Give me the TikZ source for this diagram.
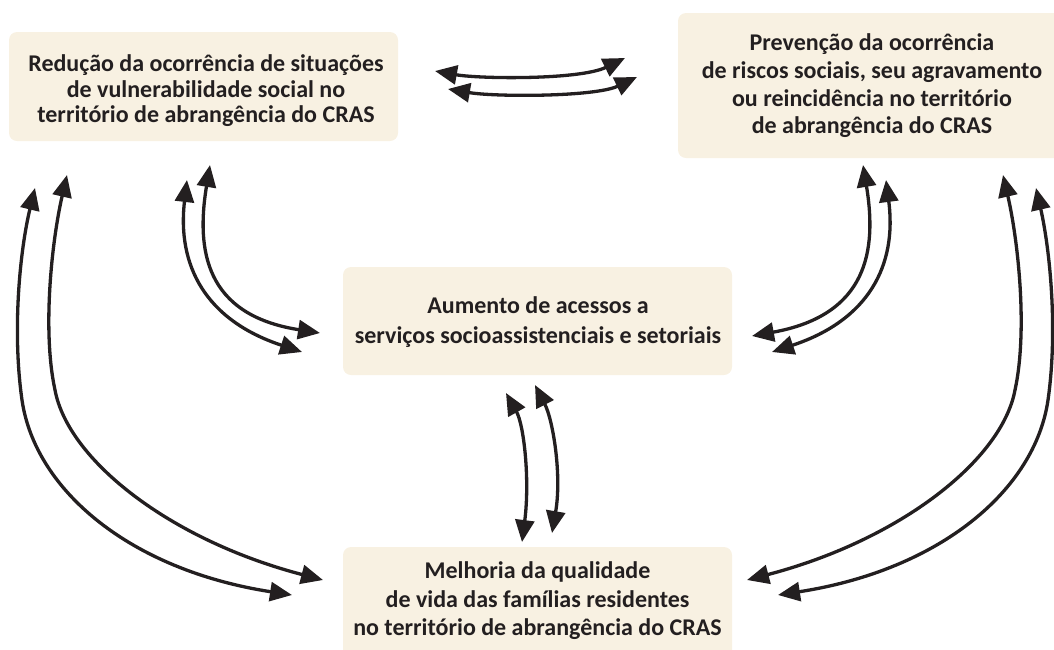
\documentclass[tikz,border=0pt]{standalone}
\usepackage{fontspec}
\setmainfont{Carlito}
\usetikzlibrary{arrows.meta}
\definecolor{boxfill}{RGB}{248,241,226}
\definecolor{ink}{RGB}{35,31,32}
\tikzset{
  box/.style={fill=boxfill, draw=none, rounded corners=8pt},
  label/.style={align=center, text=ink, font=\fontsize{24}{27.7}\selectfont\bfseries, inner sep=0pt},
  arr/.style={draw=ink, line width=3.3pt, >={Triangle[length=22pt,width=19pt]}, <->},
}
\begin{document}
\begin{tikzpicture}[x=1pt,y=-1pt]
\useasboundingbox (0,0) rectangle (1054,649);
% boxes
\path[box] (9,32) rectangle (398,141);
\path[box] (678,13) rectangle (1075,158);
\path[box] (343,267) rectangle (732,375);
\path[box] (343,547) rectangle (732,690);
% texts
\node[label, font=\fontsize{24}{25.5}\selectfont\bfseries] (A) at (206,91) {Redução da ocorrência de situações\\de vulnerabilidade social no\\território de abrangência do CRAS};
\node[label] (B) at (872,86) {Prevenção da ocorrência\\de riscos sociais, seu agravamento\\ou reincidência no território\\de abrangência do CRAS};
\node[label, font=\fontsize{24}{30}\selectfont\bfseries] (C) at (538,322) {Aumento de acessos a\\serviços socioassistenciais e setoriais};
\node[label, font=\fontsize{24}{28.5}\selectfont\bfseries] (D) at (537.5,601) {Melhoria da qualidade\\de vida das famílias residentes\\no território de abrangência do CRAS};
% endpoints
\coordinate (ab1l) at (435,71);  \coordinate (ab1r) at (625,58);
\coordinate (ab2l) at (448,89);  \coordinate (ab2r) at (637,77);
\coordinate (ac1t) at (187,180); \coordinate (ac1b) at (302,352);
\coordinate (ac2t) at (210,165); \coordinate (ac2b) at (320,333);
\coordinate (bc1t) at (863,165); \coordinate (bc1b) at (752,336);
\coordinate (bc2t) at (886,180); \coordinate (bc2b) at (772,352);
\coordinate (cd1t) at (506,393); \coordinate (cd1b) at (522,542);
\coordinate (cd2t) at (535,385); \coordinate (cd2b) at (552,533);
\coordinate (ad1t) at (35,188);  \coordinate (ad1b) at (292,595);
\coordinate (ad2t) at (67,175);  \coordinate (ad2b) at (323,580);
\coordinate (bd1t) at (1003,175); \coordinate (bd1b) at (747,580);
\coordinate (bd2t) at (1036,188); \coordinate (bd2b) at (778,595);
% connectors
\draw[arr] (ab1l) .. controls (480,79) and (580,80) .. (ab1r);
\draw[arr] (ab2l) .. controls (495,97) and (595,97) .. (ab2r);
\draw[arr] (ac1t) .. controls (177,265) and (205,320) .. (ac1b);
\draw[arr] (ac2t) .. controls (196,250) and (205,315) .. (ac2b);
\draw[arr] (bc1t) .. controls (877,250) and (868,315) .. (bc1b);
\draw[arr] (bc2t) .. controls (897,265) and (869,320) .. (bc2b);
\draw[arr] (cd1t) .. controls (524,425) and (530,480) .. (cd1b);
\draw[arr] (cd2t) .. controls (553,420) and (562,475) .. (cd2b);
\draw[arr] (ad1t) .. controls (20,250) and (12,330) .. (22,400) .. controls (35,490) and (130,570) .. (ad1b);
\draw[arr] (ad2t) .. controls (52,240) and (42,330) .. (55,390) .. controls (68,460) and (170,540) .. (ad2b);
\draw[arr] (bd1t) .. controls (1018,240) and (1028,330) .. (1015,390) .. controls (1002,460) and (900,540) .. (bd1b);
\draw[arr] (bd2t) .. controls (1050,250) and (1058,330) .. (1048,400) .. controls (1035,490) and (940,570) .. (bd2b);
\end{tikzpicture}
\end{document}
